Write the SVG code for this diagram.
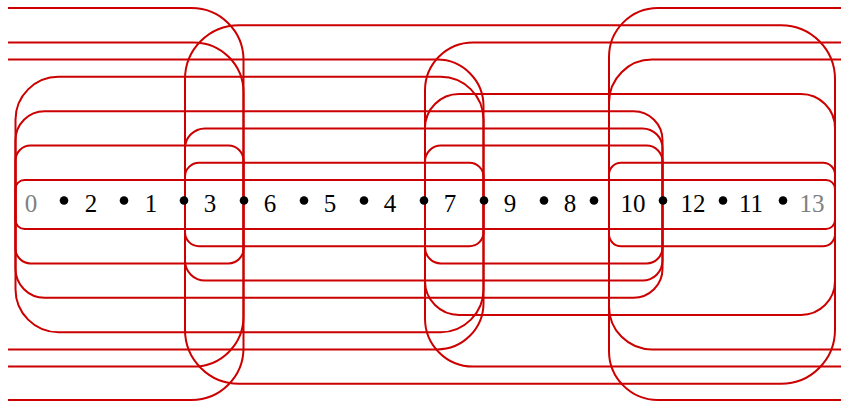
<svg xmlns="http://www.w3.org/2000/svg" width="841" height="401" viewBox="0 0 841 401">
<style>
  .c { fill: none; stroke: #cc0000; stroke-width: 2; }
  .lbl { font-family: "Liberation Serif", "Times New Roman", serif; font-size: 25px; text-anchor: middle; fill: #000; }
  .end { fill: #808080; }
  .dot { fill: #000; }
</style>
<rect width="841" height="401" fill="#fff"/>
<g id="connectors">
  <rect class="c" x="15.5" y="180" width="819.5" height="49" rx="9"/>
  <rect class="c" x="15.5" y="145.6" width="228" height="117.8" rx="15"/>
  <rect class="c" x="185" y="162.8" width="298.5" height="83.4" rx="14"/>
  <rect class="c" x="425" y="145.6" width="237.5" height="117.8" rx="16"/>
  <rect class="c" x="609" y="162.8" width="226" height="83.4" rx="12"/>
  <rect class="c" x="185" y="128.4" width="477.5" height="152.2" rx="20"/>
  <rect class="c" x="15.5" y="111.2" width="647" height="186.6" rx="29"/>
  <rect class="c" x="425" y="94" width="410" height="221" rx="34"/>
  <rect class="c" x="15.5" y="76.8" width="468" height="255.4" rx="43"/>
  <rect class="c" x="185" y="25.2" width="650" height="358.6" rx="54"/>
  <path class="c" d="M8,59.6 H437 A46.5,46.5 0 0 1 483.5,106.1 V302.9 A46.5,46.5 0 0 1 437,349.4 H8"/>
  <path class="c" d="M8,42.4 H193.5 A50,50 0 0 1 243.5,92.4 V316.6 A50,50 0 0 1 193.5,366.6 H8"/>
  <path class="c" d="M8,8 H191.5 A52,52 0 0 1 243.5,60 V348 A52,52 0 0 1 191.5,400 H8"/>
  <path class="c" d="M841,42.4 H473 A48,48 0 0 0 425,90.4 V318.6 A48,48 0 0 0 473,366.6 H841"/>
  <path class="c" d="M841,59.6 H652 A43,43 0 0 0 609,102.6 V306.4 A43,43 0 0 0 652,349.4 H841"/>
  <path class="c" d="M841,8 H658 A49,49 0 0 0 609,57 V351 A49,49 0 0 0 658,400 H841"/>
</g>
<g id="dots">
  <circle class="dot" cx="64" cy="200.5" r="4.3"/>
  <circle class="dot" cx="124" cy="200.5" r="4.3"/>
  <circle class="dot" cx="184" cy="200.5" r="4.3"/>
  <circle class="dot" cx="244" cy="200.5" r="4.3"/>
  <circle class="dot" cx="304" cy="200.5" r="4.3"/>
  <circle class="dot" cx="364" cy="200.5" r="4.3"/>
  <circle class="dot" cx="424" cy="200.5" r="4.3"/>
  <circle class="dot" cx="484" cy="200.5" r="4.3"/>
  <circle class="dot" cx="544" cy="200.5" r="4.3"/>
  <circle class="dot" cx="594" cy="200.5" r="4.3"/>
  <circle class="dot" cx="663" cy="200.5" r="4.3"/>
  <circle class="dot" cx="723" cy="200.5" r="4.3"/>
  <circle class="dot" cx="783" cy="200.5" r="4.3"/>
</g>
<g id="n0"><text class="lbl end" x="31" y="212">0</text></g>
<g id="n2"><text class="lbl" x="91" y="212">2</text></g>
<g id="n1"><text class="lbl" x="151" y="212">1</text></g>
<g id="n3"><text class="lbl" x="210" y="212">3</text></g>
<g id="n6"><text class="lbl" x="270" y="212">6</text></g>
<g id="n5"><text class="lbl" x="330" y="212">5</text></g>
<g id="n4"><text class="lbl" x="390" y="212">4</text></g>
<g id="n7"><text class="lbl" x="450" y="212">7</text></g>
<g id="n9"><text class="lbl" x="510" y="212">9</text></g>
<g id="n8"><text class="lbl" x="570" y="212">8</text></g>
<g id="n10"><text class="lbl" x="633" y="212">10</text></g>
<g id="n12"><text class="lbl" x="693" y="212">12</text></g>
<g id="n11"><text class="lbl" x="751" y="212">11</text></g>
<g id="n13"><text class="lbl end" x="812" y="212">13</text></g>
</svg>
